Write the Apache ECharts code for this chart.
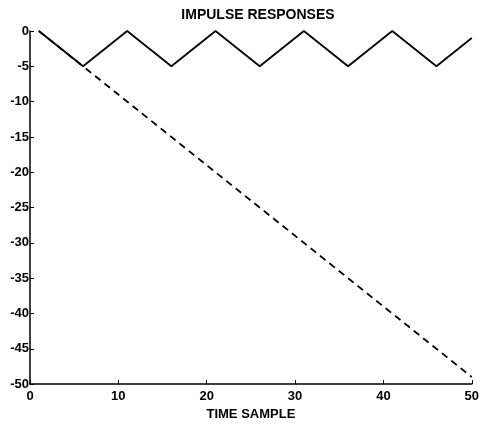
<!DOCTYPE html>
<html><head><meta charset="utf-8">
<script src="https://cdn.jsdelivr.net/npm/echarts@6/dist/echarts.min.js"></script>
<style>html,body{margin:0;padding:0;background:#fff}#c{width:482px;height:426px}</style>
</head><body><div id="c"></div>
<script>
var title = "IMPULSE RESPONSES";
var xLabel = "TIME SAMPLE";
var solidX = [1, 6, 11, 16, 21, 26, 31, 36, 41, 46, 50];
var solidY = [0, -5, 0, -5, 0, -5, 0, -5, 0, -5, -1];
var dashedX = [1, 50];
var dashedY = [0, -49];
function pairs(xs, ys){ return xs.map(function(x,i){ return [x, ys[i]]; }); }
var chart = echarts.init(document.getElementById('c'), null, {renderer:'canvas'});
var font = 'Liberation Sans, Arial, sans-serif';
chart.setOption({
  animation:false,
  backgroundColor:'#fff',
  title:{text:title,left:253,textAlign:'center',top:3,textStyle:{fontFamily:font,fontWeight:'bold',fontSize:14,color:'#000'}},
  grid:{left:30,right:10,top:31,bottom:41},
  xAxis:{type:'value',min:0,max:50,interval:10,name:xLabel,nameLocation:'middle',nameGap:23,
    nameTextStyle:{fontFamily:font,fontWeight:'bold',fontSize:13,color:'#000'},
    axisLine:{onZero:false,lineStyle:{color:'#000',width:1.5}},
    axisTick:{inside:true,length:4,lineStyle:{color:'#000'}},
    axisLabel:{fontFamily:font,fontWeight:'bold',fontSize:13,color:'#000',margin:6},
    splitLine:{show:false}},
  yAxis:{type:'value',min:-50,max:0,interval:5,
    axisLine:{show:true,onZero:false,lineStyle:{color:'#000',width:1.5}},
    axisTick:{show:true,inside:true,length:4,lineStyle:{color:'#000'}},
    axisLabel:{fontFamily:font,fontWeight:'bold',fontSize:13,color:'#000',margin:1},
    splitLine:{show:false}},
  series:[
    {type:'line',data:pairs(solidX,solidY),symbol:'none',lineStyle:{color:'#000',width:1.8}},
    {type:'line',data:pairs(dashedX,dashedY),symbol:'none',lineStyle:{color:'#000',width:1.8,type:[7,5]}}
  ]
});
</script></body></html>
